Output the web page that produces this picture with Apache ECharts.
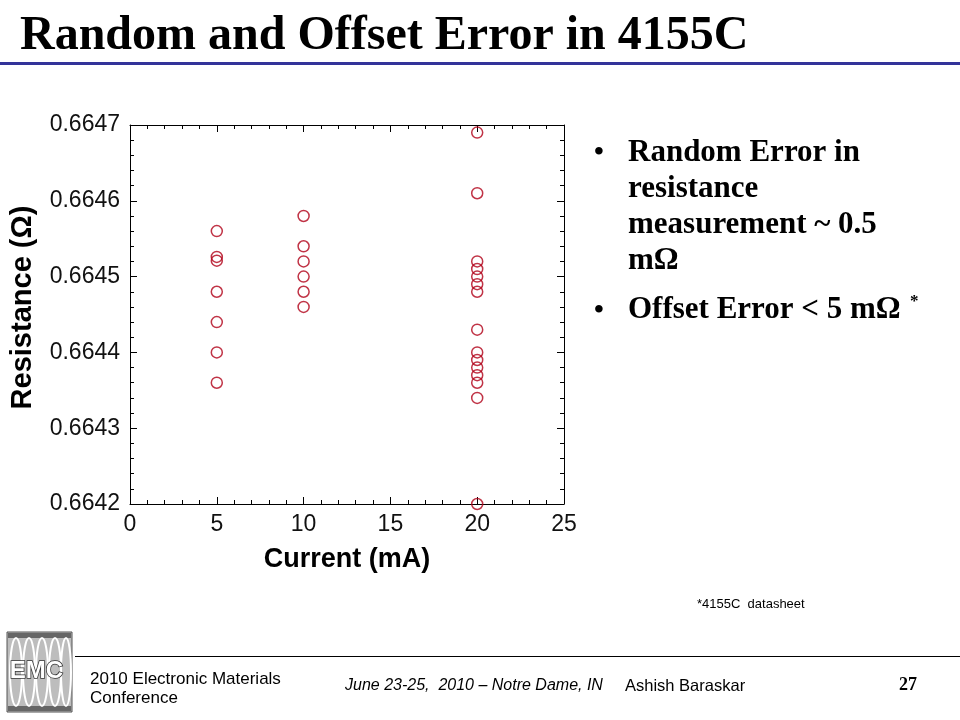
<!DOCTYPE html>
<html>
<head>
<meta charset="utf-8">
<script src="https://cdn.jsdelivr.net/npm/echarts@6/dist/echarts.min.js"></script>
<style>html,body{margin:0;padding:0;background:#fff;}#c{width:960px;height:720px;}</style>
</head>
<body>
<div id="c"></div>
<script>
// Data
const currents = [5, 10, 20];
const resistance5 = [0.66456, 0.664526, 0.664521, 0.66448, 0.66444, 0.66440, 0.66436];
const resistance10 = [0.66458, 0.66454, 0.66452, 0.66450, 0.66448, 0.66446];
const resistance20 = [0.66469, 0.66461, 0.66452, 0.66451, 0.66450, 0.66449, 0.66448, 0.66443,
                      0.66440, 0.66439, 0.66438, 0.66437, 0.66436, 0.66434, 0.66420];
const xTicks = [0, 5, 10, 15, 20, 25];
const yTicks = [0.6642, 0.6643, 0.6644, 0.6645, 0.6646, 0.6647];

const groups = [resistance5, resistance10, resistance20];
const points = [];
groups.forEach((arr, i) => arr.forEach(v => points.push([currents[i], v])));

const chart = echarts.init(document.getElementById('c'));
const axisFont = 'Liberation Sans, Arial, sans-serif';
const serif = 'Liberation Serif, Times New Roman, serif';
const frameLine = { show: true, onZero: false, lineStyle: { color: '#000', width: 1 } };
const tickIn = { show: true, inside: true, length: 7, lineStyle: { color: '#000' } };
const minorIn = { show: true, splitNumber: 5, length: 4, lineStyle: { color: '#000' } };

chart.setOption({
  animation: false,
  backgroundColor: '#fff',
  grid: { left: 130, top: 125, width: 434, height: 379, containLabel: false },
  xAxis: [{
    type: 'value', min: xTicks[0], max: xTicks[xTicks.length - 1], interval: 5,
    position: 'bottom',
    axisLine: frameLine, axisTick: tickIn, minorTick: minorIn,
    splitLine: { show: false },
    axisLabel: { fontFamily: axisFont, fontSize: 23, color: '#111', margin: 9 },
    name: 'Current (mA)', nameLocation: 'middle', nameGap: 42,
    nameTextStyle: { fontFamily: axisFont, fontSize: 27, fontWeight: 'bold', color: '#000' }
  }, {
    type: 'value', min: xTicks[0], max: xTicks[xTicks.length - 1], interval: 5,
    position: 'top',
    axisLine: frameLine, axisTick: tickIn, minorTick: minorIn,
    splitLine: { show: false }, axisLabel: { show: false }
  }],
  yAxis: [{
    type: 'value', min: yTicks[0], max: yTicks[yTicks.length - 1], interval: 0.0001,
    position: 'left',
    axisLine: frameLine, axisTick: tickIn, minorTick: minorIn,
    splitLine: { show: false },
    axisLabel: { fontFamily: axisFont, fontSize: 23, color: '#111', margin: 10,
      formatter: v => v.toFixed(4) },
    name: 'Resistance (Ω)', nameLocation: 'middle', nameGap: 93, nameRotate: 90,
    nameTextStyle: { fontFamily: axisFont, fontSize: 29, fontWeight: 'bold', color: '#000',
      padding: [0, 0, 0, 14] }
  }, {
    type: 'value', min: yTicks[0], max: yTicks[yTicks.length - 1], interval: 0.0001,
    position: 'right',
    axisLine: frameLine, axisTick: tickIn, minorTick: minorIn,
    splitLine: { show: false }, axisLabel: { show: false }
  }],
  series: [{
    type: 'scatter',
    xAxisIndex: 0, yAxisIndex: 0,
    data: points,
    symbol: 'circle', symbolSize: 11,
    itemStyle: { color: 'rgba(255,255,255,0)', borderColor: '#b00018', borderWidth: 1.5 },
    clip: false
  }],
  graphic: [
    { type: 'text', left: 20, top: 13, style: { text: 'Random and Offset Error in 4155C',
        font: 'bold 48px ' + serif, fill: '#000' } },
    { type: 'rect', shape: { x: 0, y: 62, width: 960, height: 3 }, style: { fill: '#333399' } },
    // bullets
    { type: 'text', left: 594, top: 139, style: { text: '•', font: 'bold 28px ' + serif, fill: '#000' } },
    { type: 'text', left: 628, top: 135, style: { text: 'Random Error in\nresistance\nmeasurement ~ 0.5\nmΩ',
        font: 'bold 31px ' + serif, fill: '#000', lineHeight: 36 } },
    { type: 'text', left: 594, top: 297, style: { text: '•', font: 'bold 28px ' + serif, fill: '#000' } },
    { type: 'text', left: 628, top: 294, style: { text: 'Offset Error < 5 mΩ', font: 'bold 31px ' + serif, fill: '#000' } },
    { type: 'text', left: 910, top: 293, style: { text: '*', font: 'bold 17px ' + serif, fill: '#000' } },
    { type: 'text', left: 697, top: 598, style: { text: '*4155C  datasheet', font: '13px ' + axisFont, fill: '#000' } },
    // footer
    { type: 'rect', shape: { x: 75, y: 656, width: 885, height: 1 }, style: { fill: '#000' } },
    { type: 'text', left: 90, top: 670, style: { text: '2010 Electronic Materials\nConference',
        font: '17px ' + axisFont, fill: '#000', lineHeight: 19 } },
    { type: 'text', left: 345, top: 678, style: { text: 'June 23-25,  2010 – Notre Dame, IN',
        font: 'italic 16px ' + axisFont, fill: '#000' } },
    { type: 'text', left: 625, top: 678, style: { text: 'Ashish Baraskar', font: '16.5px ' + axisFont, fill: '#000' } },
    { type: 'text', left: 899, top: 676, style: { text: '27', font: 'bold 18px ' + serif, fill: '#000' } },
    // EMC logo
    { type: 'rect', shape: { x: 7, y: 632, width: 65, height: 80 },
      style: { fill: '#bdbdbd', stroke: '#555', lineWidth: 1 } },
    { type: 'rect', shape: { x: 8, y: 633, width: 63, height: 5 }, style: { fill: '#666' } },
    { type: 'rect', shape: { x: 8, y: 706, width: 63, height: 5 }, style: { fill: '#666' } },
    { type: 'ellipse', shape: { cx: 16, cy: 672, rx: 6, ry: 34 }, style: { fill: 'none', stroke: '#fff', lineWidth: 2 } },
    { type: 'ellipse', shape: { cx: 29, cy: 672, rx: 6, ry: 34 }, style: { fill: 'none', stroke: '#fff', lineWidth: 2 } },
    { type: 'ellipse', shape: { cx: 42, cy: 672, rx: 6, ry: 34 }, style: { fill: 'none', stroke: '#fff', lineWidth: 2 } },
    { type: 'ellipse', shape: { cx: 55, cy: 672, rx: 6, ry: 34 }, style: { fill: 'none', stroke: '#fff', lineWidth: 2 } },
    { type: 'ellipse', shape: { cx: 66, cy: 672, rx: 5, ry: 34 }, style: { fill: 'none', stroke: '#fff', lineWidth: 2 } },
    { type: 'text', left: 9, top: 659, style: { text: 'EMC', font: 'bold 24px ' + axisFont,
        fill: '#fff', stroke: '#333', lineWidth: 1.5 } }
  ]
});
</script>
</body>
</html>
